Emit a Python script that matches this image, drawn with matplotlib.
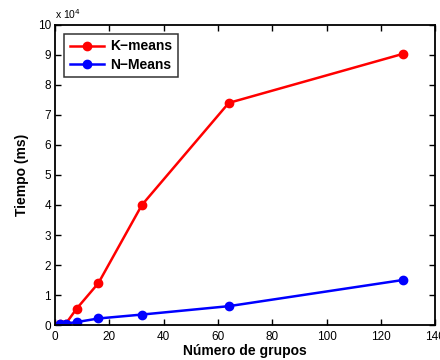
import matplotlib
matplotlib.use("Agg")
import matplotlib.pyplot as plt
from matplotlib.ticker import FuncFormatter

plt.rcParams['font.family'] = ['Liberation Sans', 'DejaVu Sans']

grupos = [2, 4, 8, 16, 32, 64, 128]
kmeans = [200, 500, 5500, 14000, 40000, 74000, 90300]
nmeans = [300, 500, 1000, 2200, 3500, 6300, 15000]
xticks = [0, 20, 40, 60, 80, 100, 120, 140]
yticks = [i * 10000 for i in range(11)]

fig = plt.figure(figsize=(4.4, 3.6), dpi=100)
ax = fig.add_axes([0.125, 0.097, 0.864, 0.834])

ax.plot(grupos, kmeans, color='#ff0000', lw=1.8, marker='o', ms=6, label='K\u2212means')
ax.plot(grupos, nmeans, color='#0000ff', lw=1.8, marker='o', ms=6, label='N\u2212Means')

ax.set_xlim(0, 140)
ax.set_ylim(0, 100000)
ax.set_xticks(xticks)
ax.set_yticks(yticks)
ax.yaxis.set_major_formatter(FuncFormatter(lambda v, p: f"{v/1e4:g}"))
ax.tick_params(direction='in', length=4, width=1.0, top=True, right=True, labelsize=8.5)
ax.tick_params(axis='x', pad=4)
ax.tick_params(axis='y', pad=3)
for s in ax.spines.values():
    s.set_linewidth(1.3)

ax.set_xlabel('Número de grupos', fontsize=10, fontweight='bold', labelpad=1)
ax.set_ylabel('Tiempo (ms)', fontsize=10, fontweight='bold', labelpad=6)
ax.text(0.0, 1.012, 'x 10$^4$', transform=ax.transAxes, fontsize=7.5, ha='left', va='bottom')

leg = ax.legend(loc='upper left', prop={'weight': 'bold', 'size': 10},
                frameon=True, fancybox=False, edgecolor='black', borderaxespad=0.65,
                handlelength=2.5, handletextpad=0.4, labelspacing=0.3, borderpad=0.4)
leg.get_frame().set_linewidth(1.1)

fig.savefig('out.png', dpi=100)
